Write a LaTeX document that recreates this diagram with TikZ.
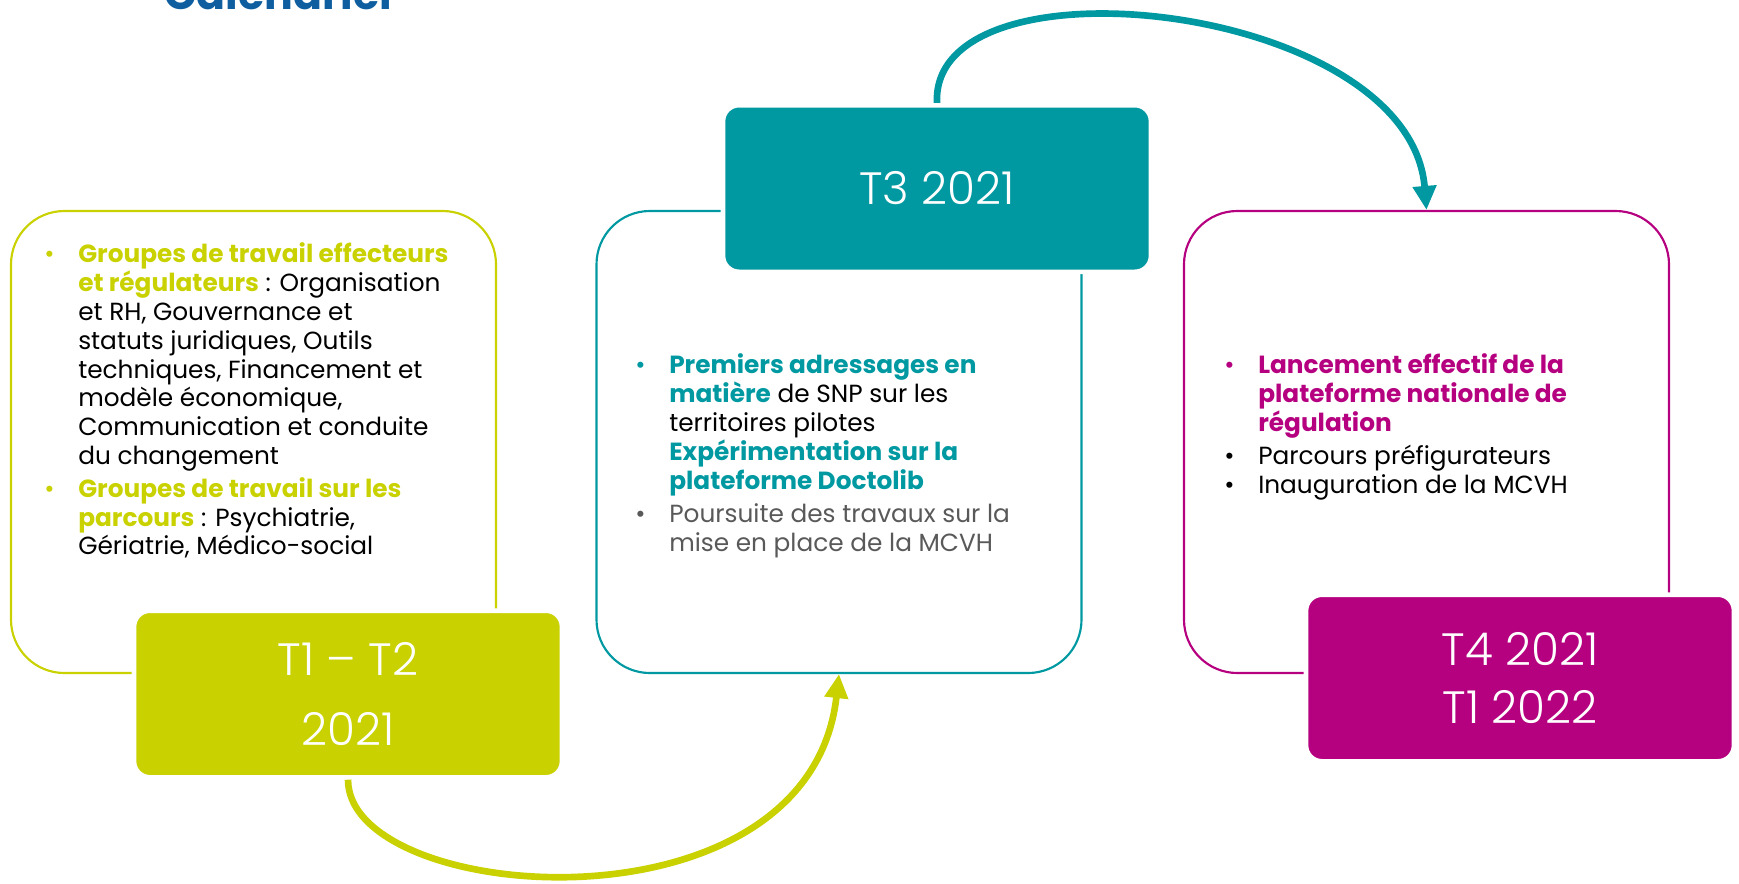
\documentclass[tikz,border=0pt]{standalone}
\usepackage{fontspec}
\setmainfont{Poppins}
\IfFontExistsTF{Poppins Light}{\newfontfamily\lightfont{Poppins Light}}{\newfontfamily\lightfont{Poppins}}
\usetikzlibrary{arrows.meta}

\definecolor{limeC}{HTML}{C9D200}
\definecolor{tealC}{HTML}{0099A1}
\definecolor{magC}{HTML}{B5007F}
\definecolor{titleC}{HTML}{0F5FA0}
\definecolor{greyC}{HTML}{595959}

\tikzset{
  outline/.style={draw=#1, line width=1.6pt, rounded corners=40pt,
    minimum width=363.75pt, minimum height=346.5pt, inner sep=0pt},
  period/.style={fill=#1, draw=white, line width=3.5pt, rounded corners=12pt,
    minimum width=321pt, minimum height=125pt, text=white,
    font=\lightfont\fontsize{34}{43}\selectfont, align=center},
  bodytext/.style={anchor=north west, inner sep=0pt,
    font=\fontsize{18.6}{21.6}\selectfont},
  flow/.style={draw=#1, line width=5pt, -{Triangle[length=18pt,width=17pt]}}
}

\begin{document}
\begin{tikzpicture}[x=0.75pt, y=-0.75pt]

  \useasboundingbox (0,0) rectangle (1739,883);

  % -- Title (cut at the top) --
  \node[anchor=base west, inner sep=0pt, text=titleC,
    font=\bfseries\fontsize{32}{38}\selectfont] (title) at (164,9) {Calendrier};

  % -- Outline boxes --
  \node[outline=limeC] (lft) at (253.5,442) {};
  \node[outline=tealC] (mid) at (839,442) {};
  \node[outline=magC] (rgt) at (1426.5,442) {};

  % -- Period boxes --
  \node[period=limeC] (t12) at (348,694) {T1 – T2\\[10pt]2021};
  \node[period=tealC] (t3) at (937,188.5) {T3 2021};
  \node[period=magC] (t4) at (1520,678) {T4 2021\\T1 2022};

  % -- Box contents --
  \node[bodytext] (lfttxt) at (44,242) {%
    \begin{tabular}{@{}p{25.5pt}@{}l@{}}
      \textcolor{limeC}{•} & \textcolor{limeC}{\textbf{Groupes de travail effecteurs}}\\
      & \textcolor{limeC}{\textbf{et régulateurs}} : Organisation\\
      & et RH, Gouvernance et\\
      & statuts juridiques, Outils\\
      & techniques, Financement et\\
      & modèle économique,\\
      & Communication et conduite\\
      & du changement\\[3pt]
      \textcolor{limeC}{•} & \textcolor{limeC}{\textbf{Groupes de travail sur les}}\\
      & \textcolor{limeC}{\textbf{parcours}} : Psychiatrie,\\
      & Gériatrie, Médico-social
    \end{tabular}};

  \node[bodytext] (midtxt) at (635,353) {%
    \begin{tabular}{@{}p{25.5pt}@{}l@{}}
      \textcolor{tealC}{•} & \textcolor{tealC}{\textbf{Premiers adressages en}}\\
      & \textcolor{tealC}{\textbf{matière}} de SNP sur les\\
      & territoires pilotes\\
      & \textcolor{tealC}{\textbf{Expérimentation sur la}}\\
      & \textcolor{tealC}{\textbf{plateforme Doctolib}}\\[3pt]
      \textcolor{greyC}{•} & \textcolor{greyC}{Poursuite des travaux sur la}\\
      & \textcolor{greyC}{mise en place de la MCVH}
    \end{tabular}};

  \node[bodytext] (rgttxt) at (1224,353) {%
    \begin{tabular}{@{}p{25.5pt}@{}l@{}}
      \textcolor{magC}{•} & \textcolor{magC}{\textbf{Lancement effectif de la}}\\
      & \textcolor{magC}{\textbf{plateforme nationale de}}\\
      & \textcolor{magC}{\textbf{régulation}}\\[3pt]
      • & Parcours préfigurateurs\\
      • & Inauguration de la MCVH
    \end{tabular}};

  % -- Flow arrows --
  \draw[flow=limeC] (t12.south) .. controls +(0,125) and +(-30,267) .. (mid.south);
  \draw[flow=tealC] (t3.north) .. controls +(-7,-152) and +(-17,-208) .. (rgt.north);

\end{tikzpicture}
\end{document}
